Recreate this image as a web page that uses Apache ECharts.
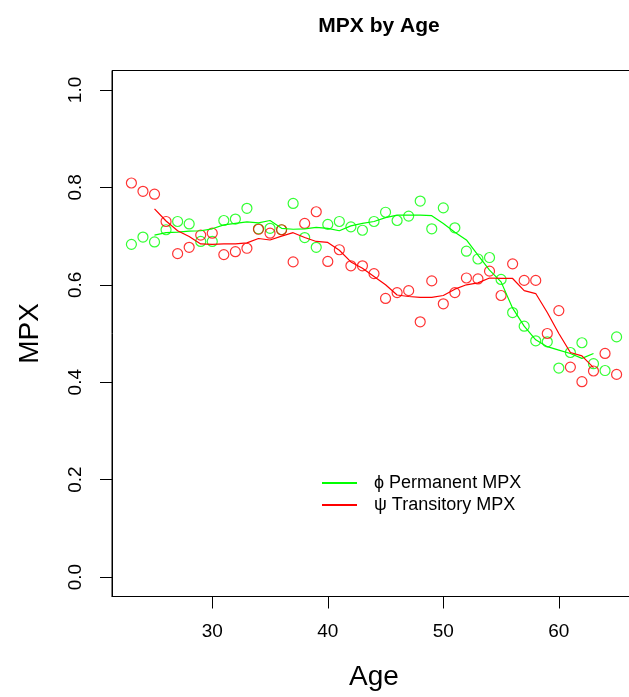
<!DOCTYPE html>
<html>
<head>
<meta charset="utf-8">
<script src="https://cdn.jsdelivr.net/npm/echarts@6/dist/echarts.min.js"></script>
<style>
  html, body { margin: 0; padding: 0; background: #fff; }
  #mpx { width: 629px; height: 697px; }
</style>
</head>
<body>
<div id="mpx"></div>
<script>
// ages of the scatter points
const ages = [23, 24, 25, 26, 27, 28, 29, 30, 31, 32, 33, 34, 35, 36, 37, 38, 39, 40, 41, 42, 43,
  44, 45, 46, 47, 48, 49, 50, 51, 52, 53, 54, 55, 56, 57, 58, 59, 60, 61, 62, 63, 64, 65];

// phi - permanent MPX (green circles)
const permanentPts = [0.683, 0.698, 0.688, 0.713, 0.730, 0.725, 0.689, 0.689, 0.732, 0.735, 0.757,
  0.715, 0.716, 0.713, 0.767, 0.697, 0.677, 0.724, 0.730, 0.719, 0.712, 0.730, 0.749, 0.732, 0.741,
  0.772, 0.715, 0.758, 0.717, 0.669, 0.653, 0.656, 0.611, 0.543, 0.515, 0.485, 0.483, 0.429, 0.461,
  0.481, 0.438, 0.424, 0.493];

// psi - transitory MPX (red circles)
const transitoryPts = [0.809, 0.792, 0.786, 0.730, 0.664, 0.677, 0.702, 0.706, 0.662, 0.668, 0.675,
  0.714, 0.706, 0.713, 0.647, 0.726, 0.750, 0.648, 0.672, 0.639, 0.639, 0.623, 0.572, 0.584, 0.588,
  0.524, 0.608, 0.561, 0.584, 0.614, 0.612, 0.628, 0.578, 0.643, 0.609, 0.609, 0.500, 0.547, 0.431,
  0.401, 0.423, 0.459, 0.416];

// smoothed lines, ages 25..63
const smoothAges = [25, 26, 27, 28, 29, 30, 31, 32, 33, 34, 35, 36, 37, 38, 39, 40, 41, 42, 43, 44,
  45, 46, 47, 48, 49, 50, 51, 52, 53, 54, 55, 56, 57, 58, 59, 60, 61, 62, 63];
const permanentLine = [0.702, 0.707, 0.708, 0.710, 0.711, 0.715, 0.723, 0.726, 0.729, 0.727, 0.732,
  0.716, 0.714, 0.715, 0.718, 0.716, 0.711, 0.721, 0.726, 0.730, 0.738, 0.743, 0.743, 0.743, 0.742,
  0.726, 0.708, 0.692, 0.661, 0.630, 0.606, 0.552, 0.515, 0.487, 0.473, 0.466, 0.459, 0.449, 0.459];
const transitoryLine = [0.756, 0.731, 0.711, 0.699, 0.684, 0.683, 0.684, 0.684, 0.686, 0.695, 0.692,
  0.700, 0.707, 0.697, 0.689, 0.687, 0.671, 0.647, 0.634, 0.617, 0.600, 0.579, 0.576, 0.574, 0.574,
  0.578, 0.591, 0.600, 0.604, 0.614, 0.613, 0.613, 0.588, 0.582, 0.543, 0.500, 0.461, 0.454, 0.430];

const xTicks = [30, 40, 50, 60];
const yTicks = [0, 0.2, 0.4, 0.6, 0.8, 1.0];

const font = 'Liberation Sans, Arial, Helvetica, sans-serif';
const green = '#00ff00';
const red = '#ff0000';

const pair = (xs, ys) => xs.map((x, i) => [x, ys[i]]);

const chart = echarts.init(document.getElementById('mpx'));

const option = {
  animation: false,
  backgroundColor: '#fff',
  textStyle: { fontFamily: font },
  title: {
    text: 'MPX by Age',
    left: 374,
    top: 11,
    textAlign: 'center',
    textStyle: { fontFamily: font, fontSize: 21, fontWeight: 'bold', color: '#000' }
  },
  grid: {
    left: 112,
    top: 70.5,
    width: 524,
    height: 526,
    outerBoundsMode: 'none',
    containLabel: false,
    show: true,
    borderColor: '#000',
    borderWidth: 1,
    backgroundColor: 'transparent'
  },
  legend: {
    orient: 'vertical',
    left: 321,
    top: 472,
    padding: 0,
    itemWidth: 35,
    itemHeight: 22,
    itemGap: 0,
    data: ['ϕ Permanent MPX', 'ψ Transitory MPX'],
    itemStyle: { opacity: 0 },
    textStyle: { fontFamily: font, fontSize: 18, color: '#000', lineHeight: 22, padding: [0, 0, 0, 12] }
  },
  xAxis: {
    type: 'value',
    min: 21.32,
    max: 66.68,
    name: 'Age',
    nameLocation: 'middle',
    nameGap: 67,
    nameTextStyle: { fontFamily: font, fontSize: 28, color: '#000' },
    splitLine: { show: false },
    axisLine: { show: true, onZero: false, lineStyle: { color: '#000', width: 1 } },
    axisTick: { show: true, length: 12, customValues: xTicks, lineStyle: { color: '#000' } },
    axisLabel: { customValues: xTicks, margin: 26, fontSize: 19, color: '#000', fontFamily: font }
  },
  yAxis: {
    type: 'value',
    min: -0.04,
    max: 1.04,
    name: 'MPX',
    nameLocation: 'middle',
    nameGap: 68,
    nameRotate: 90,
    nameTextStyle: { fontFamily: font, fontSize: 28, color: '#000' },
    splitLine: { show: false },
    axisLine: { show: true, onZero: false, lineStyle: { color: '#000', width: 1 } },
    axisTick: { show: true, length: 12, customValues: yTicks, lineStyle: { color: '#000' } },
    axisLabel: {
      customValues: yTicks,
      rotate: 90,
      margin: 27,
      fontSize: 19,
      color: '#000',
      fontFamily: font,
      formatter: v => v.toFixed(1)
    }
  },
  series: [
    {
      name: 'permanent points',
      type: 'scatter',
      data: pair(ages, permanentPts),
      symbol: 'circle',
      symbolSize: 10,
      itemStyle: { color: 'transparent', borderColor: green, borderWidth: 1.2 },
      z: 2
    },
    {
      name: 'transitory points',
      type: 'scatter',
      data: pair(ages, transitoryPts),
      symbol: 'circle',
      symbolSize: 10,
      itemStyle: { color: 'transparent', borderColor: red, borderWidth: 1.2 },
      z: 3
    },
    {
      name: 'ϕ Permanent MPX',
      type: 'line',
      data: pair(smoothAges, permanentLine),
      symbol: 'none',
      showSymbol: false,
      itemStyle: { color: green },
      lineStyle: { color: green, width: 1.2 },
      z: 4
    },
    {
      name: 'ψ Transitory MPX',
      type: 'line',
      data: pair(smoothAges, transitoryLine),
      symbol: 'none',
      showSymbol: false,
      itemStyle: { color: red },
      lineStyle: { color: red, width: 1.2 },
      z: 5
    }
  ]
};

chart.setOption(option);
</script>
</body>
</html>
